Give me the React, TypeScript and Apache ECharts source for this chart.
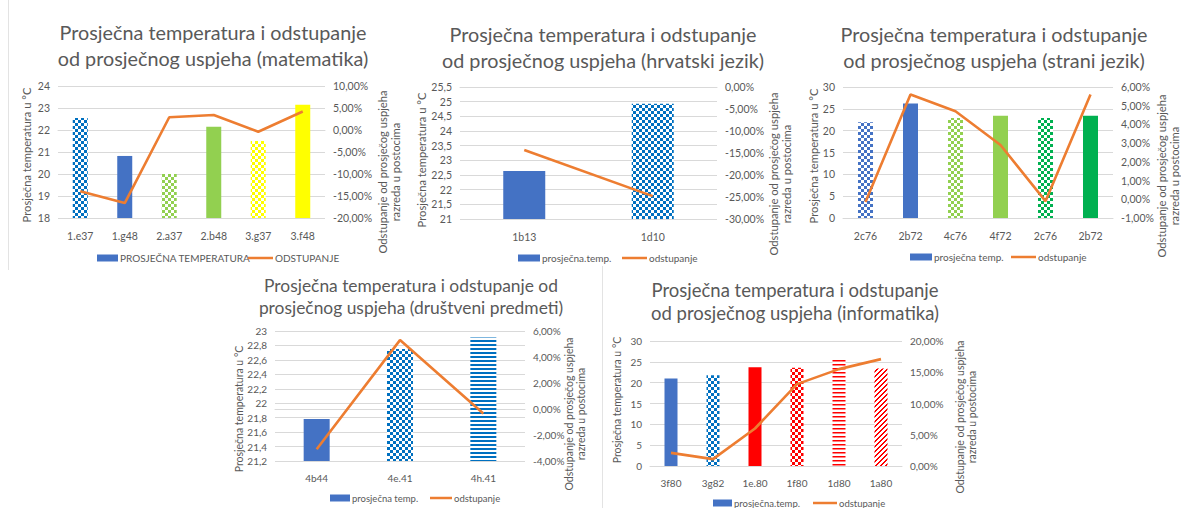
import React, { useEffect, useRef } from 'react';
import * as echarts from 'echarts';

// ---------- DATA ----------
const mathCategories = ['1.e37', '1.g48', '2.a37', '2.b48', '3.g37', '3.f48'];
const mathTemperature = [22.55, 20.82, 20.0, 22.15, 21.5, 23.15];
const mathDeviation = [-13.9, -16.6, 2.9, 3.4, -0.4, 4.2];

const croCategories = ['1b13', '1d10'];
const croTemperature = [22.64, 24.93];
const croDeviation = [-14.3, -24.8];

const foreignCategories = ['2c76', '2b72', '4c76', '4f72', '2c76', '2b72'];
const foreignTemperature = [21.9, 26.2, 22.9, 23.4, 22.9, 23.4];
const foreignDeviation = [-0.15, 5.6, 4.7, 2.9, -0.1, 5.6];

const socialCategories = ['4b44', '4e.41', '4h.41'];
const socialTemperature = [21.78, 22.75, 22.91];
const socialDeviation = [-3.1, 5.3, -0.35];

const itCategories = ['3f80', '3g82', '1e.80', '1f80', '1d80', '1a80'];
const itTemperature = [21.0, 21.8, 23.7, 23.6, 25.6, 23.4];
const itDeviation = [2.1, 1.1, 6.0, 13.1, 15.5, 17.1];

const titles = [
  'Prosječna temperatura i odstupanje\nod prosječnog uspjeha (matematika)',
  'Prosječna temperatura i odstupanje\nod prosječnog uspjeha (hrvatski jezik)',
  'Prosječna temperatura i odstupanje\nod prosječnog uspjeha (strani jezik)',
  'Prosječna temperatura i odstupanje od\nprosječnog uspjeha (društveni predmeti)',
  'Prosječna temperatura i odstupanje\nod prosječnog uspjeha (informatika)',
];
const barLegendNames = ['PROSJEČNA TEMPERATURA', 'prosječna.temp.', 'prosječna temp.', 'prosječna temp.', 'prosječna.temp.'];
const lineLegendNames = ['ODSTUPANJE', 'odstupanje', 'odstupanje', 'odstupanje', 'odstupanje'];
const leftAxisName = 'Prosječna temperatura u °C';
const rightAxisName = 'Odstupanje od prosječog uspjeha\nrazreda u postocima';

// ---------- STYLES ----------
const mathFills = ['checker:#0070C0', 'solid:#4472C4', 'checker:#92D050', 'solid:#92D050', 'checker:#FFFF00', 'solid:#FFFF00'];
const croFills = ['solid:#4472C4', 'checker:#0070C0'];
const foreignFills = ['checker:#4472C4', 'solid:#4472C4', 'checker:#92D050', 'solid:#92D050', 'checker:#00B050', 'solid:#00B050'];
const socialFills = ['solid:#4472C4', 'checker:#0070C0', 'hstripe:#0070C0'];
const itFills = ['solid:#4472C4', 'checker:#0070C0', 'solid:#FF0000', 'checker:#FF0000', 'hline:#FF0000', 'diag:#FF0000'];

const TEXT = '#595959';
const GRIDC = '#D9D9D9';
const ORANGE = '#ED7D31';
const FONT = 'Lato, "Noto Sans", sans-serif';

function makeFill(spec: string): any {
  const [kind, color] = spec.split(':');
  if (kind === 'solid') return color;
  const c = document.createElement('canvas');
  let w = 6, h = 6;
  if (kind === 'hstripe' || kind === 'hline') { w = 4; h = 4; }
  if (kind === 'diag') { w = 5; h = 5; }
  c.width = w; c.height = h;
  const ctx = c.getContext('2d')!;
  ctx.fillStyle = '#FFFFFF';
  ctx.fillRect(0, 0, w, h);
  ctx.fillStyle = color;
  if (kind === 'checker') {
    ctx.fillRect(0, 0, 3, 3);
    ctx.fillRect(3, 3, 3, 3);
  } else if (kind === 'hstripe') {
    ctx.fillRect(0, 0, 4, 2);
  } else if (kind === 'hline') {
    ctx.fillRect(0, 0, 4, 1);
    ctx.fillStyle = '#FF8080';
    ctx.fillRect(0, 1, 4, 1);
  } else if (kind === 'diag') {
    for (let x = 0; x < w; x++) for (let y = 0; y < h; y++) {
      if ((x + y) % 5 < 2) ctx.fillRect(x, y, 1, 1);
    }
  }
  return { image: c.toDataURL(), repeat: 'repeat', imageWidth: w, imageHeight: h };
}

const fmtLeft = (v: number) => String(Number(v.toFixed(2))).replace('.', ',');
const fmtRight = (v: number) => v.toFixed(2).replace('.', ',') + '%';

type ChartDef = {
  cats: string[]; temp: number[]; dev: number[]; fills: string[];
  grid: { left: number; top: number; width: number; height: number };
  lmin: number; lmax: number; lint: number;
  rmin: number; rmax: number; rint: number;
  barWidth: number; fs: number;
  title: { x: number; y: number; size: number; lh: number };
  lname: { x: number; y: number };
  rname: { x: number; y: number };
  legend: { y: number; rectX: number; textX: number; lineX: number; lineX2: number; text2X: number };
};

const charts: ChartDef[] = [
  {
    cats: mathCategories, temp: mathTemperature, dev: mathDeviation, fills: mathFills,
    grid: { left: 58, top: 86, width: 267, height: 132 },
    lmin: 18, lmax: 24, lint: 1, rmin: -20, rmax: 10, rint: 5, barWidth: 15, fs: 10.5,
    title: { x: 213, y: 45, size: 19.8, lh: 26 },
    lname: { x: 26, y: 155 }, rname: { x: 389, y: 172 },
    legend: { y: 258, rectX: 97, textX: 120, lineX: 248, lineX2: 273, text2X: 275 },
  },
  {
    cats: croCategories, temp: croTemperature, dev: croDeviation, fills: croFills,
    grid: { left: 460, top: 87, width: 257, height: 132 },
    lmin: 21, lmax: 25.5, lint: 0.5, rmin: -30, rmax: 0, rint: 5, barWidth: 42, fs: 10.5,
    title: { x: 603, y: 46.5, size: 19.8, lh: 26 },
    lname: { x: 421, y: 160 }, rname: { x: 780, y: 174 },
    legend: { y: 258, rectX: 518, textX: 542, lineX: 622, lineX2: 647, text2X: 649 },
  },
  {
    cats: foreignCategories, temp: foreignTemperature, dev: foreignDeviation, fills: foreignFills,
    grid: { left: 843, top: 87, width: 270, height: 131 },
    lmin: 0, lmax: 30, lint: 5, rmin: -1, rmax: 6, rint: 1, barWidth: 15, fs: 10.5,
    title: { x: 994, y: 46.5, size: 19.8, lh: 26 },
    lname: { x: 813, y: 156 }, rname: { x: 1168, y: 176 },
    legend: { y: 257, rectX: 910, textX: 934, lineX: 1011, lineX2: 1036, text2X: 1038 },
  },
  {
    cats: socialCategories, temp: socialTemperature, dev: socialDeviation, fills: socialFills,
    grid: { left: 275, top: 331, width: 250, height: 130 },
    lmin: 21.2, lmax: 23, lint: 0.2, rmin: -4, rmax: 6, rint: 2, barWidth: 26, fs: 10,
    title: { x: 411, y: 296, size: 17.4, lh: 22 },
    lname: { x: 239, y: 409 }, rname: { x: 575, y: 414 },
    legend: { y: 498, rectX: 330, textX: 352, lineX: 430, lineX2: 452, text2X: 454 },
  },
  {
    cats: itCategories, temp: itTemperature, dev: itDeviation, fills: itFills,
    grid: { left: 650, top: 341, width: 252, height: 125 },
    lmin: 0, lmax: 30, lint: 5, rmin: 0, rmax: 20, rint: 5, barWidth: 13, fs: 10,
    title: { x: 795, y: 301.5, size: 18.5, lh: 23 },
    lname: { x: 617, y: 400 }, rname: { x: 966, y: 417 },
    legend: { y: 503, rectX: 713, textX: 734, lineX: 813, lineX2: 837, text2X: 839 },
  },
];

function buildOption() {
  const grid: any[] = [];
  const xAxis: any[] = [];
  const yAxis: any[] = [];
  const series: any[] = [];
  const graphic: any[] = [];

  charts.forEach((c, i) => {
    grid.push({ ...c.grid, containLabel: false });
    xAxis.push({
      type: 'category', gridIndex: i, data: c.cats,
      axisLine: { lineStyle: { color: GRIDC } }, axisTick: { show: false },
      axisLabel: { color: TEXT, fontSize: c.fs, fontFamily: FONT, margin: 12 },
    });
    yAxis.push({
      type: 'value', gridIndex: i, min: c.lmin, max: c.lmax, interval: c.lint,
      axisLine: { show: false }, axisTick: { show: false },
      splitLine: { lineStyle: { color: GRIDC, width: 1 } },
      axisLabel: { color: TEXT, fontSize: c.fs, fontFamily: FONT, margin: 8, formatter: fmtLeft },
    });
    yAxis.push({
      type: 'value', gridIndex: i, position: 'right', min: c.rmin, max: c.rmax, interval: c.rint,
      axisLine: { show: false }, axisTick: { show: false }, splitLine: { show: false },
      axisLabel: { color: TEXT, fontSize: c.fs, fontFamily: FONT, margin: 8, formatter: fmtRight },
    });
    series.push({
      type: 'bar', name: barLegendNames[i], xAxisIndex: i, yAxisIndex: 2 * i,
      barWidth: c.barWidth, itemStyle: { color: '#4472C4' },
      data: c.temp.map((v, k) => ({ value: v, itemStyle: { color: makeFill(c.fills[k]) } })),
      z: 2,
    });
    series.push({
      type: 'line', name: lineLegendNames[i], xAxisIndex: i, yAxisIndex: 2 * i + 1,
      data: c.dev, symbol: 'none', showSymbol: false,
      lineStyle: { color: ORANGE, width: 2.6 }, itemStyle: { color: ORANGE }, z: 5,
    });

    // title
    graphic.push({
      type: 'text', x: c.title.x, y: c.title.y, silent: true,
      style: {
        text: titles[i], fill: TEXT, font: `${c.title.size}px ${FONT}`, lineHeight: c.title.lh,
        align: 'center', verticalAlign: 'middle', textAlign: 'center', textVerticalAlign: 'middle',
      },
    });
    // axis names
    const nameSize = i < 3 ? 11.2 : 10.5;
    graphic.push({
      type: 'text', x: c.lname.x, y: c.lname.y, rotation: Math.PI / 2, silent: true,
      style: {
        text: leftAxisName, fill: TEXT, font: `${nameSize}px ${FONT}`,
        align: 'center', verticalAlign: 'middle', textAlign: 'center', textVerticalAlign: 'middle',
      },
    });
    graphic.push({
      type: 'text', x: c.rname.x, y: c.rname.y, rotation: Math.PI / 2, silent: true,
      style: {
        text: rightAxisName, fill: TEXT, font: `${nameSize}px ${FONT}`, lineHeight: nameSize + 1,
        align: 'center', verticalAlign: 'middle', textAlign: 'center', textVerticalAlign: 'middle',
      },
    });
    // legend
    const L = c.legend;
    const lfs = i < 3 ? 10 : 9.5;
    graphic.push({
      type: 'rect', silent: true,
      shape: { x: L.rectX, y: L.y - 3.5, width: L.textX - L.rectX - 2, height: 7 },
      style: { fill: '#4472C4' },
    });
    graphic.push({
      type: 'text', x: L.textX, y: L.y, silent: true,
      style: { text: barLegendNames[i], fill: TEXT, font: `${lfs}px ${FONT}`, align: 'left', verticalAlign: 'middle', textAlign: 'left', textVerticalAlign: 'middle' },
    });
    graphic.push({
      type: 'line', silent: true,
      shape: { x1: L.lineX, y1: L.y, x2: L.lineX2, y2: L.y },
      style: { stroke: ORANGE, lineWidth: 2.5 },
    });
    graphic.push({
      type: 'text', x: L.text2X, y: L.y, silent: true,
      style: { text: lineLegendNames[i], fill: TEXT, font: `${lfs}px ${FONT}`, align: 'left', verticalAlign: 'middle', textAlign: 'left', textVerticalAlign: 'middle' },
    });
  });

  // panel borders
  graphic.push({ type: 'line', silent: true, shape: { x1: 8.5, y1: 0, x2: 8.5, y2: 270 }, style: { stroke: '#E3E3E3', lineWidth: 1 } });
  graphic.push({ type: 'line', silent: true, shape: { x1: 602.5, y1: 266, x2: 602.5, y2: 508 }, style: { stroke: '#E3E3E3', lineWidth: 1 } });

  return {
    animation: false,
    backgroundColor: '#FFFFFF',
    textStyle: { fontFamily: FONT },
    grid, xAxis, yAxis, series, graphic,
  };
}

export default function App() {
  const ref = useRef<HTMLDivElement>(null);
  useEffect(() => {
    if (!ref.current) return;
    const chart = echarts.init(ref.current, undefined, { renderer: 'svg' });
    chart.setOption(buildOption() as any);
    return () => chart.dispose();
  }, []);
  return (
    <div
      ref={ref}
      style={{ position: 'absolute', left: 0, top: 0, width: 1181, height: 508, background: '#fff' }}
    />
  );
}
